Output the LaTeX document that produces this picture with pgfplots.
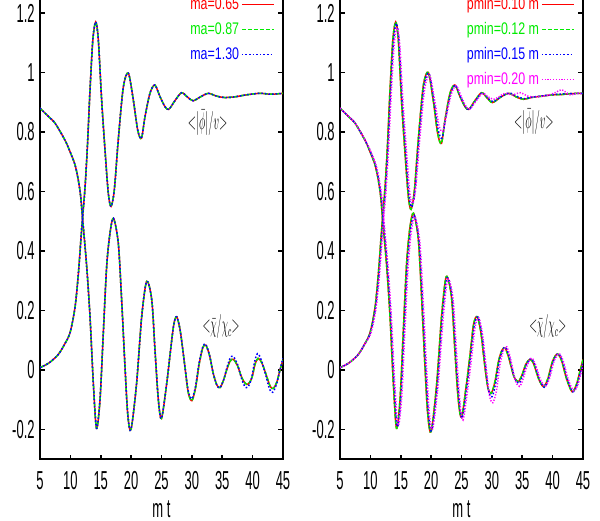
\documentclass[border=0pt]{standalone}
\usepackage{fontspec}
\setmainfont[FakeStretch=0.5]{Liberation Sans}
\newfontfamily\legfont[FakeStretch=0.74]{Liberation Sans}
\usepackage{pgfplots}
\usepackage{pgfplotstable}
\pgfplotsset{compat=1.18}

\definecolor{gpred}{RGB}{255,0,0}
\definecolor{gpgreen}{RGB}{0,235,0}
\definecolor{gpblue}{RGB}{0,0,255}
\definecolor{gpmag}{RGB}{255,0,255}

% left panel
\pgfplotstableread[row sep=\\]{t v\\
5 0.008\\ 6.5 0.024\\ 8 0.052\\ 9 0.085\\ 9.94 0.125\\ 10.76 0.21\\ 11.3 0.32\\ 11.7 0.43\\ 12.0 0.51\\ 12.4 0.61\\
12.8 0.75\\ 13.23 0.94\\ 13.7 1.11\\ 14.17 1.17\\ 14.6 1.11\\ 15.14 0.91\\ 15.7 0.74\\ 16.24 0.595\\ 16.69 0.55\\
17.23 0.605\\ 17.89 0.775\\ 18.71 0.95\\ 19.54 0.998\\ 20.36 0.908\\ 21.08 0.807\\ 21.7 0.779\\ 22.28 0.851\\
23.1 0.93\\ 23.9 0.958\\ 24.75 0.919\\ 25.58 0.885\\ 26.2 0.876\\ 27.2 0.905\\ 28.3 0.932\\ 29.3 0.917\\ 30.2 0.905\\
31.4 0.918\\ 32.7 0.930\\ 34.0 0.921\\ 35.3 0.916\\ 37 0.918\\ 39 0.925\\ 41.2 0.930\\ 43 0.927\\ 45 0.930\\
}\phiL
\pgfplotstableread[row sep=\\]{t v\\
5 0.880\\ 6.5 0.850\\ 7.5 0.829\\ 9.1 0.773\\ 9.94 0.734\\ 10.76 0.690\\ 11.3 0.639\\ 11.7 0.583\\ 12.0 0.51\\
12.68 0.35\\ 13.23 0.18\\ 13.78 -0.045\\ 14.3 -0.196\\ 14.88 -0.10\\ 15.42 0.123\\ 15.97 0.347\\ 16.52 0.46\\
17.1 0.51\\ 17.89 0.426\\ 18.44 0.235\\ 18.99 0.011\\ 19.45 -0.15\\ 19.98 -0.20\\ 20.9 -0.045\\ 21.74 0.179\\
22.56 0.298\\ 23.4 0.235\\ 23.93 0.067\\ 24.48 -0.10\\ 25.0 -0.163\\ 25.86 -0.045\\ 26.4 0.05\\ 27.0 0.15\\
27.5 0.179\\ 28.1 0.13\\ 28.8 0.02\\ 29.4 -0.075\\ 30.0 -0.103\\ 30.6 -0.06\\ 31.2 0.02\\ 31.8 0.075\\ 32.27 0.084\\
32.9 0.05\\ 33.5 -0.01\\ 34.1 -0.05\\ 34.63 -0.059\\ 35.2 -0.035\\ 35.8 0.005\\ 36.3 0.03\\ 36.82 0.036\\
37.5 0.015\\ 38.2 -0.025\\ 38.8 -0.045\\ 39.3 -0.047\\ 39.9 -0.025\\ 40.4 0.02\\ 40.9 0.039\\ 41.5 0.025\\
42.3 -0.02\\ 42.9 -0.055\\ 43.4 -0.062\\ 44 -0.04\\ 44.5 0\\ 45 0.034\\
}\chiL
\pgfplotstableread[row sep=\\]{t v\\
5 0.880\\ 6.5 0.850\\ 7.5 0.829\\ 9.1 0.773\\ 9.94 0.734\\ 10.76 0.690\\ 11.3 0.639\\ 11.7 0.583\\ 12.0 0.51\\
12.68 0.35\\ 13.23 0.18\\ 13.78 -0.045\\ 14.3 -0.196\\ 14.88 -0.10\\ 15.42 0.123\\ 15.97 0.347\\ 16.52 0.46\\
17.1 0.51\\ 17.89 0.426\\ 18.44 0.235\\ 18.99 0.011\\ 19.45 -0.15\\ 19.98 -0.20\\ 20.9 -0.045\\ 21.74 0.179\\
22.56 0.298\\ 23.4 0.235\\ 23.93 0.067\\ 24.48 -0.10\\ 25.0 -0.163\\ 25.86 -0.045\\ 26.4 0.05\\ 27.0 0.15\\
27.5 0.179\\ 28.1 0.13\\ 28.8 0.02\\ 29.4 -0.07\\ 30.0 -0.097\\ 30.6 -0.055\\ 31.2 0.025\\ 31.8 0.078\\ 32.3 0.086\\
32.9 0.05\\ 33.5 -0.01\\ 34.1 -0.05\\ 34.6 -0.06\\ 35.2 -0.035\\ 35.8 0.01\\ 36.3 0.04\\ 36.8 0.046\\
37.5 0.02\\ 38.2 -0.03\\ 38.7 -0.055\\ 39.2 -0.058\\ 39.8 -0.03\\ 40.3 0.025\\ 40.8 0.055\\ 41.4 0.035\\
42.2 -0.02\\ 42.8 -0.065\\ 43.3 -0.075\\ 43.9 -0.05\\ 44.5 0\\ 45 0.04\\
}\chiLb

% right panel
\pgfplotstableread[row sep=\\]{t v\\
5 0.008\\ 6.5 0.024\\ 8 0.052\\ 9 0.085\\ 9.94 0.125\\ 10.76 0.21\\ 11.3 0.32\\ 11.7 0.43\\ 12.0 0.51\\ 12.4 0.61\\
12.8 0.75\\ 13.23 0.94\\ 13.7 1.11\\ 14.17 1.17\\ 14.6 1.11\\ 15.14 0.90\\ 15.7 0.73\\ 16.24 0.585\\ 16.69 0.54\\
17.23 0.60\\ 17.89 0.775\\ 18.71 0.955\\ 19.54 1.0\\ 20.36 0.905\\ 21.08 0.795\\ 21.7 0.762\\ 22.28 0.84\\
23.1 0.93\\ 23.9 0.958\\ 24.75 0.919\\ 25.58 0.885\\ 26.2 0.876\\ 27.2 0.905\\ 28.3 0.932\\ 29.2 0.915\\ 30.1 0.899\\
31.5 0.918\\ 32.8 0.930\\ 34.0 0.918\\ 35.2 0.910\\ 36.5 0.916\\ 38 0.920\\ 40 0.925\\ 41.5 0.926\\ 43 0.929\\ 45 0.930\\
}\phiR
\pgfplotstableread[row sep=\\]{t v\\
5 0.880\\ 6.5 0.850\\ 7.5 0.829\\ 9.1 0.773\\ 9.94 0.734\\ 10.76 0.690\\ 11.3 0.639\\ 11.7 0.583\\ 12.0 0.51\\
12.68 0.35\\ 13.23 0.18\\ 13.78 -0.045\\ 14.3 -0.196\\ 14.88 -0.10\\ 15.42 0.13\\ 15.97 0.36\\ 16.52 0.48\\
17.1 0.527\\ 17.89 0.44\\ 18.44 0.24\\ 18.99 0.011\\ 19.45 -0.15\\ 20.0 -0.207\\ 20.9 -0.05\\ 21.74 0.185\\
22.5 0.314\\ 23.35 0.245\\ 23.9 0.07\\ 24.45 -0.095\\ 25.0 -0.159\\ 25.8 -0.05\\ 26.4 0.05\\ 27.0 0.155\\
27.6 0.179\\ 28.2 0.125\\ 28.8 0.02\\ 29.35 -0.06\\ 29.9 -0.078\\ 30.5 -0.04\\ 31.1 0.03\\ 31.7 0.068\\ 32.2 0.073\\
32.8 0.04\\ 33.6 -0.02\\ 34.3 -0.039\\ 34.9 -0.02\\ 35.6 0.02\\ 36.3 0.036\\ 36.9 0.02\\ 37.7 -0.03\\ 38.5 -0.056\\
39.2 -0.03\\ 40.0 0.03\\ 40.8 0.054\\ 41.5 0.03\\ 42.3 -0.03\\ 43.2 -0.073\\ 43.9 -0.05\\ 44.5 -0.005\\ 45 0.035\\
}\chiR
\pgfplotstableread[row sep=\\]{t v\\
5 0.008\\ 6.5 0.024\\ 8 0.052\\ 9 0.085\\ 10.0 0.125\\ 10.85 0.21\\ 11.4 0.32\\ 11.8 0.43\\ 12.1 0.51\\ 12.5 0.61\\
12.9 0.75\\ 13.33 0.94\\ 13.8 1.105\\ 14.27 1.165\\ 14.7 1.105\\ 15.24 0.90\\ 15.8 0.735\\ 16.34 0.59\\ 16.79 0.548\\
17.33 0.60\\ 17.99 0.775\\ 18.81 0.952\\ 19.64 0.997\\ 20.46 0.905\\ 21.18 0.805\\ 21.8 0.78\\ 22.38 0.845\\
23.2 0.928\\ 24.0 0.957\\ 24.85 0.918\\ 25.68 0.884\\ 26.3 0.876\\ 27.3 0.905\\ 28.4 0.932\\ 29.3 0.915\\ 30.2 0.902\\
31.6 0.92\\ 32.9 0.931\\ 34.1 0.92\\ 35.3 0.912\\ 36.6 0.917\\ 38.1 0.921\\ 40.1 0.926\\ 41.6 0.928\\ 43.1 0.929\\ 45 0.93\\
}\phiRb
\pgfplotstableread[row sep=\\]{t v\\
5 0.880\\ 6.5 0.850\\ 7.5 0.829\\ 9.1 0.773\\ 10 0.733\\ 10.85 0.688\\ 11.4 0.635\\ 11.8 0.578\\ 12.1 0.51\\
12.8 0.35\\ 13.35 0.18\\ 13.9 -0.045\\ 14.42 -0.19\\ 15.0 -0.10\\ 15.54 0.13\\ 16.09 0.355\\ 16.64 0.475\\
17.22 0.52\\ 18.01 0.435\\ 18.56 0.24\\ 19.11 0.011\\ 19.57 -0.15\\ 20.12 -0.203\\ 21.02 -0.05\\ 21.86 0.18\\
22.62 0.31\\ 23.47 0.245\\ 24.02 0.07\\ 24.57 -0.095\\ 25.12 -0.162\\ 25.92 -0.05\\ 26.52 0.05\\ 27.12 0.152\\
27.72 0.178\\ 28.32 0.125\\ 28.92 0.02\\ 29.47 -0.07\\ 30.02 -0.09\\ 30.62 -0.045\\ 31.22 0.03\\ 31.82 0.07\\
32.32 0.075\\ 32.92 0.04\\ 33.72 -0.025\\ 34.42 -0.045\\ 35.02 -0.022\\ 35.72 0.02\\ 36.42 0.038\\ 37.02 0.02\\
37.82 -0.03\\ 38.62 -0.058\\ 39.32 -0.03\\ 40.12 0.03\\ 40.92 0.055\\ 41.62 0.03\\ 42.42 -0.03\\ 43.32 -0.073\\
44.02 -0.05\\ 44.62 -0.005\\ 45 0.025\\
}\chiRb
\pgfplotstableread[row sep=\\]{t v\\
5 0.008\\ 6.5 0.024\\ 8 0.052\\ 9 0.085\\ 10.1 0.125\\ 10.95 0.21\\ 11.5 0.32\\ 11.9 0.43\\ 12.2 0.51\\ 12.6 0.61\\
13.0 0.75\\ 13.45 0.935\\ 13.92 1.095\\ 14.4 1.15\\ 14.83 1.095\\ 15.37 0.90\\ 15.93 0.74\\ 16.47 0.60\\ 16.92 0.56\\
17.46 0.61\\ 18.12 0.775\\ 18.94 0.945\\ 19.77 0.99\\ 20.59 0.905\\ 21.31 0.82\\ 21.93 0.803\\ 22.51 0.855\\
23.33 0.928\\ 24.13 0.955\\ 24.98 0.918\\ 25.81 0.884\\ 26.43 0.878\\ 27.43 0.905\\ 28.5 0.93\\ 29.4 0.918\\
30.3 0.91\\ 31.3 0.92\\ 32.1 0.93\\ 33.4 0.925\\ 34.7 0.932\\ 36 0.92\\ 37.5 0.918\\ 39.5 0.925\\ 40.7 0.935\\
41.5 0.942\\ 42.9 0.925\\ 44 0.93\\ 45 0.928\\
}\phiRm
\pgfplotstableread[row sep=\\]{t v\\
5 0.880\\ 6.5 0.851\\ 7.5 0.830\\ 9.1 0.775\\ 10.1 0.733\\ 10.95 0.688\\ 11.5 0.635\\ 11.9 0.578\\ 12.2 0.51\\
12.9 0.35\\ 13.45 0.18\\ 14.0 -0.04\\ 14.55 -0.185\\ 15.13 -0.10\\ 15.67 0.125\\ 16.22 0.35\\ 16.77 0.47\\
17.35 0.515\\ 18.14 0.43\\ 18.69 0.235\\ 19.24 0.011\\ 19.7 -0.145\\ 20.25 -0.198\\ 21.15 -0.05\\ 21.99 0.175\\
22.75 0.305\\ 23.6 0.24\\ 24.15 0.07\\ 24.7 -0.1\\ 25.25 -0.168\\ 26.05 -0.06\\ 26.65 0.04\\ 27.25 0.145\\
27.85 0.175\\ 28.45 0.12\\ 29.05 0.01\\ 29.6 -0.085\\ 30.15 -0.11\\ 30.75 -0.07\\ 31.35 0.02\\ 31.95 0.068\\
32.45 0.078\\ 33.05 0.04\\ 33.85 -0.035\\ 34.55 -0.055\\ 35.15 -0.03\\ 35.85 0.018\\ 36.55 0.04\\ 37.15 0.02\\
37.95 -0.03\\ 38.75 -0.055\\ 39.45 -0.03\\ 40.25 0.03\\ 41.05 0.055\\ 41.75 0.03\\ 42.55 -0.03\\ 43.45 -0.07\\
44.15 -0.05\\ 44.75 -0.005\\ 45 0.015\\
}\chiRm

\tikzset{annot/.style={font=\fontsize{12}{12}\selectfont, inner sep=1pt}}
\newcommand{\philab}{\scalebox{0.45}[1]{$\mathord{<}|\bar{\phi}|/v\mathord{>}$}}
\newcommand{\chilab}{\scalebox{0.43}[1]{$\mathord{<}\bar{\chi}/\chi_c\mathord{>}$}}

\pgfplotsset{
  panel/.style={
    scale only axis, width=121.5pt, height=238pt,
    xmin=5, xmax=45, ymin=-0.3, ymax=1.3,
    xtick={5,10,...,45},
    xticklabels={5,10,15,20,25,30,35,40,45},
    ytick={-0.2,0,0.2,0.4,0.6,0.8,1,1.2},
    yticklabels={-0.2,0,0.2,0.4,0.6,0.8,1,1.2},
    tick align=inside, major tick length=2.3pt,
    tick style={black, line width=0.85pt},
    axis line style={line width=0.85pt},
    every tick label/.append style={font=\fontsize{13}{13}\selectfont},
    yticklabel style={anchor=east, inner sep=0pt, xshift=-2.5pt},
    xticklabel style={anchor=base, inner sep=0pt, yshift=-15pt},
    xlabel={m t},
    every axis x label/.style={at={(axis description cs:0.5,0)}, anchor=base,
      yshift=-29pt, font=\fontsize{13}{13}\selectfont},
    legend style={draw=none, fill=none, at={(axis description cs:1,1)},
      anchor=north east, xshift=-4pt, yshift=-5pt, inner sep=0pt, row sep=1.5pt,
      font=\legfont\fontsize{8.4}{8.4}\selectfont,
      nodes={inner sep=1pt, text height=7pt, text depth=2pt}},
    legend cell align=right, legend plot pos=right,
    legend image code/.code={\draw[#1] (0pt,0pt) -- (16pt,0pt);},
    every axis plot/.append style={line width=0.75pt, smooth},
  },
  lred/.style={gpred, solid},
  lgreen/.style={gpgreen, dash pattern=on 2pt off 1pt},
  lblue/.style={gpblue, dash pattern=on 0.8pt off 1pt},
  lmag/.style={gpmag, dash pattern=on 0.6pt off 0.8pt},
}

\begin{document}
\begin{tikzpicture}
\begin{axis}[panel, at={(20pt,-229.625pt)}, anchor=south west]
\addplot[lred] table {\phiL};
\addlegendentry{\textcolor{gpred}{ma=0.65}}
\addplot[lred, forget plot] table {\chiL};
\addplot[lgreen] table {\phiL};
\addlegendentry{\textcolor{gpgreen}{ma=0.87}}
\addplot[lgreen, forget plot] table {\chiL};
\addplot[lblue] table {\phiL};
\addlegendentry{\textcolor{gpblue}{ma=1.30}}
\addplot[lblue, forget plot] table {\chiLb};
\node[annot] at (axis cs:32.6,0.832) {\philab};
\node[annot] at (axis cs:34.8,0.146) {\chilab};
\end{axis}

\begin{axis}[panel, at={(170pt,-229.625pt)}, anchor=south west]
\addplot[lred] table {\phiR};
\addlegendentry{\textcolor{gpred}{pmin=0.10 m}}
\addplot[lred, forget plot] table {\chiR};
\addplot[lgreen] table {\phiR};
\addlegendentry{\textcolor{gpgreen}{pmin=0.12 m}}
\addplot[lgreen, forget plot] table {\chiR};
\addplot[lblue] table {\phiRb};
\addlegendentry{\textcolor{gpblue}{pmin=0.15 m}}
\addplot[lblue, forget plot] table {\chiRb};
\addplot[lmag] table {\phiRm};
\addlegendentry{\textcolor{gpmag}{pmin=0.20 m}}
\addplot[lmag, forget plot] table {\chiRm};
\node[annot] at (axis cs:36.9,0.834) {\philab};
\node[annot] at (axis cs:39.2,0.146) {\chilab};
\end{axis}
\pgfresetboundingbox
\path[use as bounding box] (0,0) rectangle (300pt,-260pt);
\end{tikzpicture}
\end{document}
